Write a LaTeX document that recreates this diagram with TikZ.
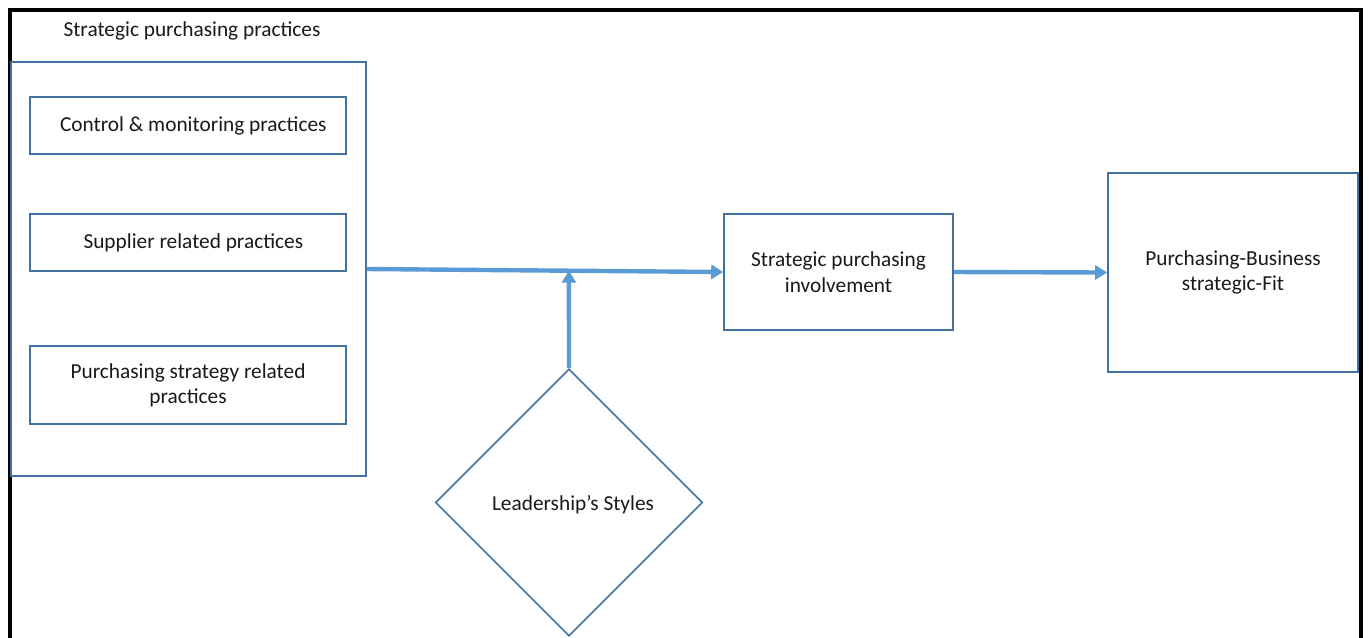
\documentclass[tikz,border=0pt]{standalone}
\usepackage{fontspec}
\setmainfont{Carlito}
\usetikzlibrary{shapes.geometric,arrows.meta,calc}
\definecolor{boxblue}{RGB}{65,113,156}
\definecolor{arrowblue}{RGB}{91,155,213}
\begin{document}
\begin{tikzpicture}[x=0.75pt,y=-0.75pt,
  every node/.style={font=\fontsize{16}{19}\selectfont, text=black!90},
  box/.style={draw=boxblue, line width=1.2pt, rectangle, inner sep=0pt, align=center},
  conn/.style={draw=arrowblue, line width=3.3pt, -{Triangle[length=9pt,width=10.5pt]}}]
\useasboundingbox (0,0) rectangle (1369,637);
\clip (0,0) rectangle (1369,637);
\draw[line width=3pt] (9.5,9.5) rectangle (1360.5,660);
\node[box, minimum width=355*0.75pt, minimum height=414*0.75pt] (grp) at (188.5,269) {};
\node (title) at (192,31) {Strategic purchasing practices};
\node[box, minimum width=316*0.75pt, minimum height=57*0.75pt] (ctrl) at (188,125.5) {\hspace*{8pt}Control \& monitoring practices};
\node[box, minimum width=316*0.75pt, minimum height=57*0.75pt] (supp) at (188,242.5) {\hspace*{8pt}Supplier related practices};
\node[box, minimum width=316*0.75pt, minimum height=78*0.75pt] (strat) at (188,385) {Purchasing strategy related\\practices};
\node[box, minimum width=229*0.75pt, minimum height=116*0.75pt] (inv) at (838.5,272) {Strategic purchasing\\involvement};
\node[box, minimum width=250*0.75pt, minimum height=199*0.75pt] (fit) at (1233,272.5) {Purchasing-Business\\strategic-Fit};
\node[draw=boxblue, line width=1.2pt, diamond, inner sep=0pt, minimum width=267*0.75pt, minimum height=267*0.75pt] (lead) at (569,502.5) {\smash{\raisebox{-6pt}{\hspace*{6pt}Leadership’s Styles}}};
\coordinate (m) at ($(grp.east)!0.567!(inv.west)$);
\draw[conn] (grp.east) -- (inv.west);
\draw[conn] (lead.north) -- (m);
\draw[conn] (inv.east) -- (fit.west);
\end{tikzpicture}
\end{document}
